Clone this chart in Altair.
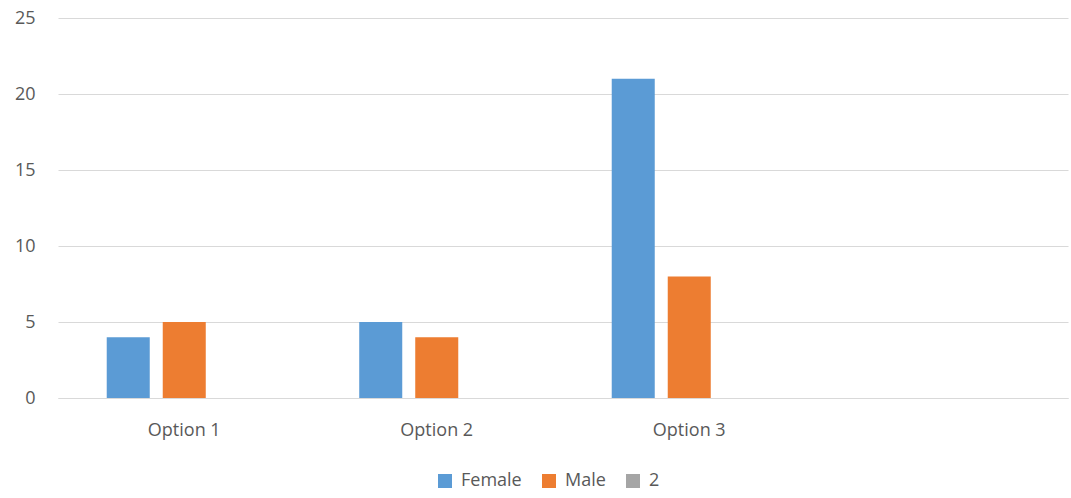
import altair as alt
import pandas as pd

categories = ["Option 1", "Option 2", "Option 3"]
axis_slots = ["Option 1", "Option 2", "Option 3", ""]
series = ["Female", "Male", "2"]
female = [4, 5, 21]
male = [5, 4, 8]
series_two = [0, 0, 0]
colors = ["#5B9BD5", "#ED7D31", "#A5A5A5"]

rows = []
for i, c in enumerate(categories):
    for s, vals in zip(series, [female, male, series_two]):
        rows.append({"category": c, "series": s, "value": vals[i]})
df = pd.DataFrame(rows)

font = "Open Sans"
text_color = "#595959"

chart = alt.Chart(df).mark_bar().encode(
    x=alt.X(
        "category:N",
        scale=alt.Scale(domain=axis_slots, paddingInner=0, paddingOuter=0),
        axis=alt.Axis(
            title=None, labelAngle=0, ticks=False, domainColor="#D9D9D9",
            labelPadding=23, labelFontSize=18, labelColor=text_color, labelFont=font,
        ),
    ),
    xOffset=alt.XOffset(
        "series:N",
        scale=alt.Scale(domain=series, paddingInner=0.232, paddingOuter=0.87),
    ),
    y=alt.Y(
        "value:Q",
        scale=alt.Scale(domain=[0, 25]),
        axis=alt.Axis(
            title=None, values=[0, 5, 10, 15, 20, 25], domain=False, ticks=False,
            gridColor="#D9D9D9", labelPadding=23, labelFontSize=18,
            labelColor=text_color, labelFont=font,
        ),
    ),
    color=alt.Color(
        "series:N",
        scale=alt.Scale(domain=series, range=colors),
        legend=alt.Legend(
            title=None, orient="none", direction="horizontal",
            legendX=378, legendY=454, symbolType="square", symbolSize=196,
            symbolStrokeWidth=0, labelFontSize=18, labelColor=text_color,
            labelFont=font, columnPadding=18, labelOffset=7, symbolOffset=0,
        ),
    ),
).properties(
    width=1010,
    height=380,
    padding={"left": 58, "top": 18, "right": 3, "bottom": 100},
    autosize=alt.AutoSizeParams(type="none"),
).configure_view(stroke=None).configure_axisX(grid=False)

chart.save("out.html", embed_options={"renderer": "svg", "actions": False})
